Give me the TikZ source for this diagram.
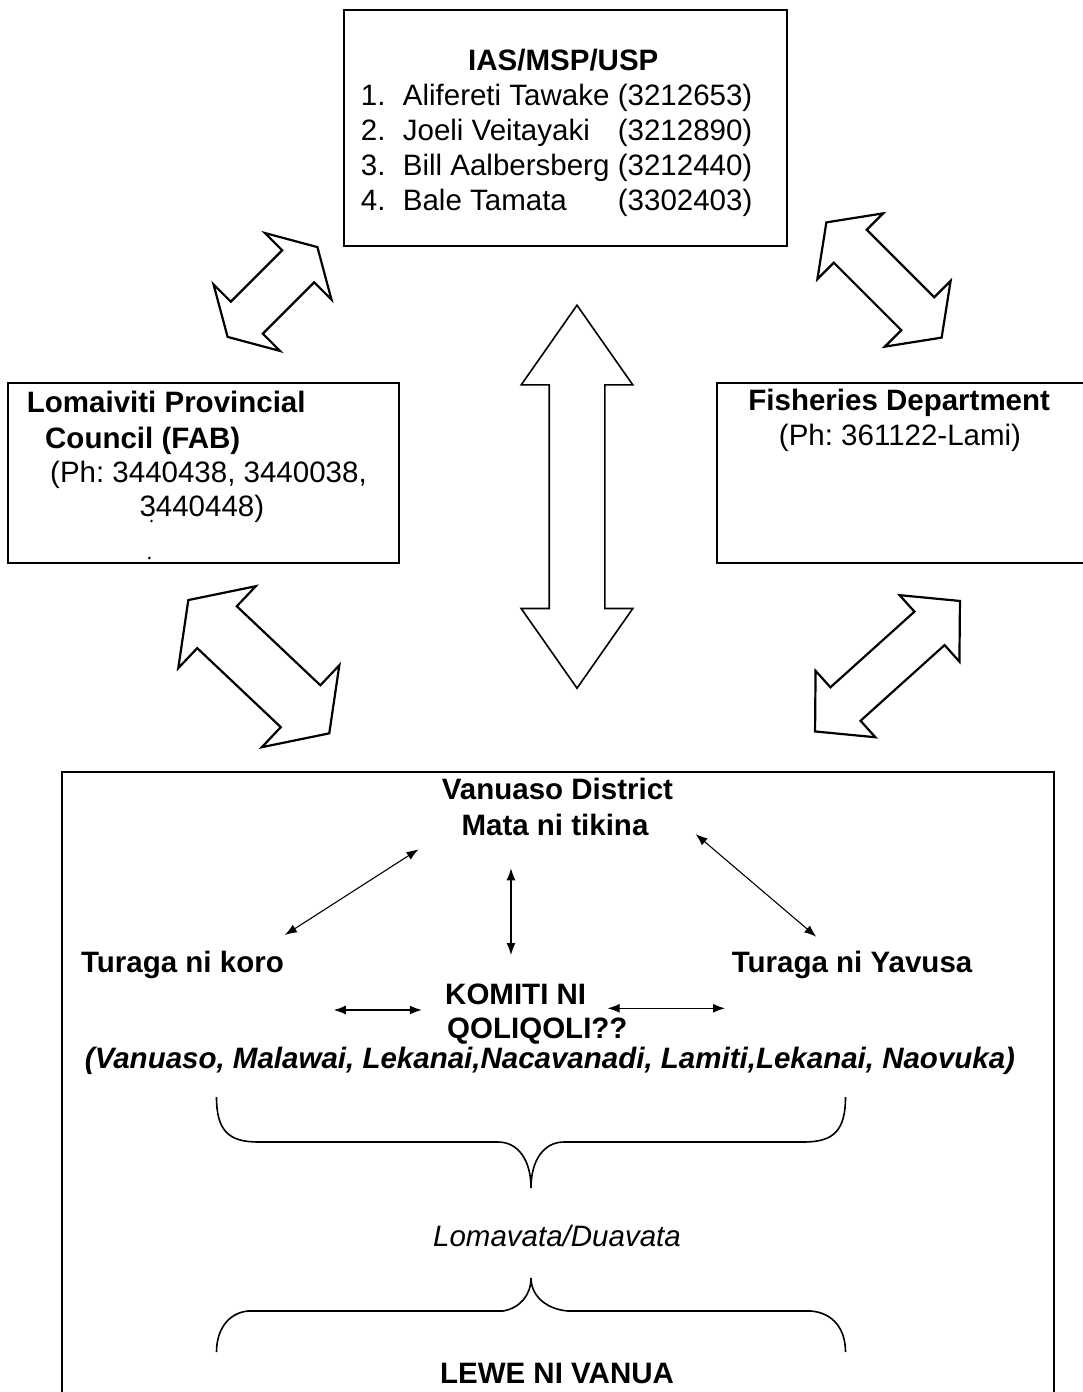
\documentclass[tikz,border=0pt]{standalone}
\usepackage{fontspec}
\setmainfont{Liberation Sans}
\usepackage{tikz}
\usetikzlibrary{positioning}
\usetikzlibrary{shapes.arrows,arrows.meta}
\tikzset{box/.style={draw, line width=2pt, inner sep=0pt},
  txt/.style={inner sep=0pt, font=\fontsize{29.5}{35}\selectfont},
  btxt/.style={inner sep=0pt, font=\fontsize{29.5}{35}\selectfont\bfseries},
  bitxt/.style={inner sep=0pt, font=\fontsize{29.5}{35}\selectfont\bfseries\itshape},
  bigarrow/.style={draw, line width=2.2pt, double arrow, inner xsep=0pt},
  link/.style={{Latex[length=12pt,width=9pt]}-{Latex[length=12pt,width=9pt]}, line width=1.1pt}}
\frenchspacing

\begin{document}
\begin{tikzpicture}[x=1pt, y=-1pt]
  \useasboundingbox (0,0) rectangle (1083,1392);

  \node[box, minimum width=443pt, minimum height=236pt] (ias) at (565,128) {};
  \node[btxt, anchor=base] (iashead) at (563.3,70) {IAS/MSP/USP};
  \node[txt, anchor=base west] (iaslist) at (360.7,105) {%
    \begin{tabular}[t]{@{}p{42pt}@{}p{215pt}@{}r@{}}
      1. & Alifereti Tawake & (3212653)\\
      2. & Joeli Veitayaki & (3212890)\\
      3. & Bill Aalbersberg & (3212440)\\
      4. & Bale Tamata & (3302403)
    \end{tabular}};

  \node[box, minimum width=390.7pt, minimum height=180.6pt] (lpc) at (203.6,473) {};
  \node[btxt, anchor=base west] (lpc1) at (26.7,412.7) {Lomaiviti Provincial};
  \node[btxt, anchor=base west] (lpc2) at (45,448.3) {Council (FAB)};
  \node[txt, anchor=base west] (lpc3) at (50,482) {(Ph: 3440438, 3440038,};
  \node[txt, anchor=base west] (lpc4) at (139.3,516) {3440448)};
  \fill (151.5,521) circle (1.3pt);
  \fill (149.3,558) circle (1.5pt);

  \draw[line width=2pt] (1083,383) -- (716.7,383) -- (716.7,563) -- (1083,563);
  \node[btxt, anchor=base] (fish1) at (899.2,410) {Fisheries Department};
  \node[txt, anchor=base] (fish2) at (900,445) {(Ph: 361122-Lami)};

  % block arrows between the offices
  \node[bigarrow, minimum height=127pt, minimum width=92pt, inner ysep=21.5pt,
    double arrow head extend=24.5pt, double arrow tip angle=120, rotate=45] (arrIL) at (272.5,292) {};
  \node[bigarrow, minimum height=163pt, minimum width=91pt, inner ysep=22.2pt,
    double arrow head extend=23.2pt, double arrow tip angle=108, rotate=-45] (arrIF) at (884,280) {};
  \node[bigarrow, line width=1.6pt, minimum height=383pt, minimum width=110pt, inner ysep=27pt,
    double arrow head extend=28pt, double arrow tip angle=70, rotate=90] (arrIV) at (577,496.7) {};
  \node[bigarrow, minimum height=194pt, minimum width=110pt, inner ysep=27.7pt,
    double arrow head extend=27.6pt, double arrow tip angle=110, rotate=-43.4] (arrLV) at (258.8,666.7) {};
  \node[bigarrow, minimum height=195pt, minimum width=87pt, inner ysep=21.4pt,
    double arrow head extend=22.2pt, double arrow tip angle=95, rotate=42] (arrFV) at (887.5,666.2) {};

  \draw[line width=2pt] (62,1392) -- (62,771.7) -- (1054,771.7) -- (1054,1392);

  \node[btxt, anchor=base] (dist) at (557.5,799) {Vanuaso District};
  \node[btxt, anchor=base] (mata) at (555,835) {Mata ni tikina};
  \node[btxt, anchor=base east] (koro) at (284,972) {Turaga ni koro};
  \node[btxt, anchor=base east] (yavusa) at (972.5,972) {Turaga ni Yavusa};
  \node[btxt, anchor=base west] (komiti) at (445,1004) {KOMITI NI};
  \node[btxt, anchor=base west] (qoli) at (447,1038) {QOLIQOLI??};
  \node[bitxt, anchor=base] (vill) at (550,1068) {(Vanuaso, Malawai, Lekanai,Nacavanadi, Lamiti,Lekanai, Naovuka)};
  \node[txt, font=\fontsize{29.5}{35}\selectfont\itshape, anchor=base] (loma) at (557,1246.7) {Lomavata/Duavata};
  \node[btxt, anchor=base] (lewe) at (557,1383) {LEWE NI VANUA};

  \coordinate (c1) at (418.5,849.3);
  \coordinate (c2) at (284.9,935);
  \coordinate (c3) at (511,868.3);
  \coordinate (c4) at (511,955);
  \coordinate (c5) at (695.6,834);
  \coordinate (c6) at (816.2,936.7);
  \coordinate (c7) at (333.8,1010);
  \coordinate (c8) at (421.8,1010);
  \coordinate (c9) at (607.6,1008.3);
  \coordinate (c10) at (725,1008.3);
  \draw[link] (c1) -- (c2);
  \draw[link] (c3) -- (c4);
  \draw[link] (c5) -- (c6);
  \draw[link] (c7) -- (c8);
  \draw[link] (c9) -- (c10);

  % braces
  \draw[line width=1.6pt] (216.5,1097) .. controls (216.5,1130) and (228,1142) .. (258,1142)
    -- (498,1142) .. controls (518,1142) and (531,1160) .. (531,1188)
    .. controls (531,1160) and (544,1142) .. (564,1142)
    -- (804,1142) .. controls (834,1142) and (845.5,1130) .. (845.5,1097);
  \draw[line width=1.6pt] (216.5,1352) .. controls (216.5,1330) and (228,1313) .. (248,1311)
    -- (503,1311) .. controls (520,1308) and (531,1295) .. (531,1278)
    .. controls (531,1295) and (545,1309) .. (568,1311)
    -- (811,1311) .. controls (834,1313) and (845.5,1330) .. (845.5,1352);
\end{tikzpicture}
\end{document}
